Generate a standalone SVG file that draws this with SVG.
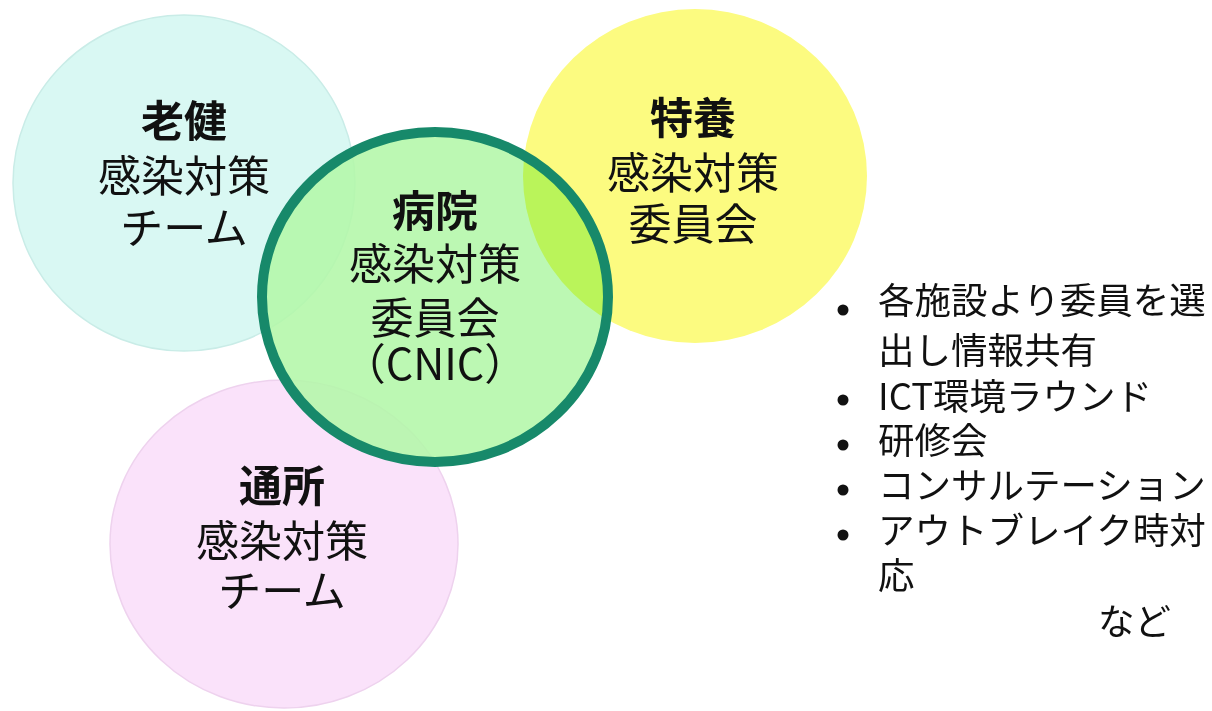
<svg xmlns="http://www.w3.org/2000/svg" width="1212" height="711" viewBox="0 0 1212 711">
<style>
text{font-family:"Noto Sans CJK JP","Noto Sans",sans-serif;fill:#111;}
.t{font-size:43px;text-anchor:middle;}
.b{font-weight:700;}
.l{font-size:36.5px;}
</style>
<rect width="1212" height="711" fill="#ffffff"/>
<g id="roken">
<ellipse cx="184" cy="183" rx="171" ry="168" fill="#d9f8f3" stroke="#c9ece7" stroke-width="1.5"/>
</g>
<g id="tsusho">
<ellipse cx="284" cy="544" rx="174" ry="164" fill="#fae2fa" stroke="#eed2ee" stroke-width="1.5"/>
</g>
<g id="byoin">
<ellipse cx="435" cy="297" rx="173" ry="165" fill="#b3f7a9" fill-opacity="0.88"/>
</g>
<g id="tokuyo">
<ellipse cx="695" cy="176" rx="172" ry="167" fill="#fcfb80" style="mix-blend-mode:multiply"/>
</g>
<g id="byoin-ring">
<ellipse cx="435" cy="297" rx="173" ry="165" fill="none" stroke="#17896a" stroke-width="10"/>
</g>
<g id="labels">
<text class="t"><tspan class="b" x="184" y="137">老健</tspan><tspan x="184" y="192">感染対策</tspan><tspan x="184" y="244">チーム</tspan></text>
<text class="t"><tspan class="b" x="435" y="227">病院</tspan><tspan x="435" y="280">感染対策</tspan><tspan x="435" y="334">委員会</tspan><tspan x="435" y="380">（CNIC）</tspan></text>
<text class="t"><tspan class="b" x="693" y="134">特養</tspan><tspan x="693" y="189">感染対策</tspan><tspan x="693" y="240">委員会</tspan></text>
<text class="t"><tspan class="b" x="282" y="502">通所</tspan><tspan x="282" y="557">感染対策</tspan><tspan x="282" y="607">チーム</tspan></text>
</g>
<g id="list">
<circle cx="843" cy="310" r="5.5" fill="#111"/>
<circle cx="843" cy="400" r="5.5" fill="#111"/>
<circle cx="843" cy="445" r="5.5" fill="#111"/>
<circle cx="843" cy="490" r="5.5" fill="#111"/>
<circle cx="843" cy="535" r="5.5" fill="#111"/>
<text class="l"><tspan x="878" y="314">各施設より委員を選</tspan><tspan x="878" y="364">出し情報共有</tspan><tspan x="878" y="410">ICT環境ラウンド</tspan><tspan x="878" y="454">研修会</tspan><tspan x="878" y="499">コンサルテーション</tspan><tspan x="878" y="544">アウトブレイク時対</tspan><tspan x="878" y="589">応</tspan><tspan x="1098" y="635">など</tspan></text>
</g>
</svg>
